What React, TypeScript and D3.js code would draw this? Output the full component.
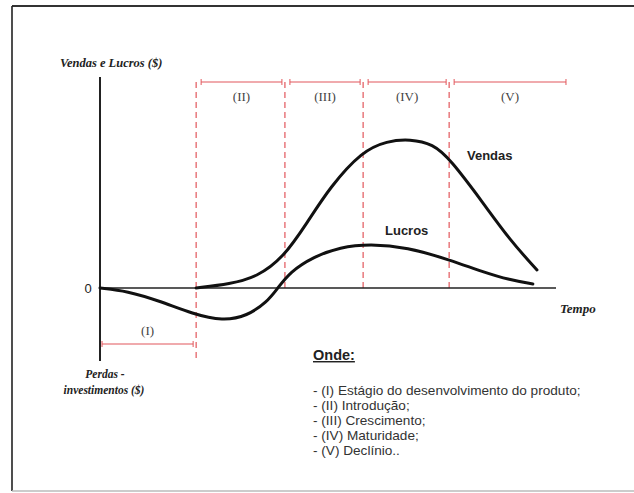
import React from "react";
import * as d3 from "d3";

const W = 634;
const H = 493;

// Time units 0..100, money units (0 = break-even)
const vendasT = [20.9, 28.3, 34.1, 39.8, 45.0, 50.0, 57.0, 62.4, 67.4, 72.4, 76.1, 83.3, 89.1, 95.0];
const vendasV = [0, 4, 11, 30, 65, 101, 137, 147, 149, 144, 129, 85, 48, 18];

const lucrosT = [0, 5.9, 13.0, 20.2, 26.7, 32.0, 36.3, 38.5, 41.3, 46.3, 52.2, 58.7, 66.7, 76.1, 83.3, 89.1, 94.1];
const lucrosV = [0, -3, -13, -26, -33, -28, -14, -1, 16, 31, 41, 44, 41, 28, 16, 8, 4];

const phaseLabels = ["(I)", "(II)", "(III)", "(IV)", "(V)"];
const phaseStart = [0, 20.9, 40.2, 57.2, 75.9];
const phaseEnd = [20.9, 40.2, 57.2, 75.9, 101.3];

const legendTitle = "Onde:";
const legendItems = [
  "- (I) Estágio do desenvolvimento do produto;",
  "- (II) Introdução;",
  "- (III) Crescimento;",
  "- (IV) Maturidade;",
  "- (V) Declínio..",
];

const RED = "#e2575c";
const SERIF = "'Liberation Serif', 'Times New Roman', serif";
const SANS = "'Liberation Sans', Arial, sans-serif";

export default function App() {
  const x = d3.scaleLinear().domain([0, 100]).range([100, 560]);
  const y = d3.scaleLinear().domain([-80, 220]).range([368, 68]);

  const line = d3
    .line<[number, number]>()
    .x((d) => x(d[0]))
    .y((d) => y(d[1]))
    .curve(d3.curveBasis);

  const vendas = vendasT.map((t, i) => [t, vendasV[i]] as [number, number]);
  const lucros = lucrosT.map((t, i) => [t, lucrosV[i]] as [number, number]);

  const y0 = y(0);
  const topBracketY = 82;
  const bottomBracketY = 344;

  return (
    <div style={{ position: "absolute", left: 0, top: 0 }}>
      <svg width={W} height={H} style={{ display: "block", background: "#fff" }}>
        {/* frame */}
        <line x1={12} y1={6} x2={W} y2={6} stroke="#333" strokeWidth={2} />
        <line x1={12} y1={6} x2={12} y2={491} stroke="#222" strokeWidth={1.6} />
        <line x1={12} y1={491} x2={W} y2={491} stroke="#bbb" strokeWidth={1.5} />

        {/* dashed phase separators */}
        {phaseStart.slice(1).map((t, i) => (
          <line
            key={"d" + i}
            x1={x(t)}
            x2={x(t)}
            y1={topBracketY}
            y2={i === 0 ? 360 : y0}
            stroke={RED}
            strokeWidth={1.2}
            strokeDasharray="6,4"
          />
        ))}

        {/* phase brackets */}
        {phaseLabels.map((lab, i) => {
          const xs = x(phaseStart[i]) + (i === 0 ? 2 : 5);
          const xe = x(phaseEnd[i]) - (i === 4 ? 0 : 3);
          const by = i === 0 ? bottomBracketY : topBracketY;
          return (
            <g key={"b" + i}>
              <line x1={xs} x2={xe} y1={by} y2={by} stroke={RED} strokeWidth={1.2} />
              <line x1={xs} x2={xs} y1={by - 3} y2={by + 3} stroke={RED} strokeWidth={1} />
              <line x1={xe} x2={xe} y1={by - 3} y2={by + 3} stroke={RED} strokeWidth={1} />
              <text
                x={(xs + xe) / 2}
                y={i === 0 ? 335 : 101}
                textAnchor="middle"
                fontFamily={SERIF}
                fontSize={13}
                fill="#444"
              >
                {lab}
              </text>
            </g>
          );
        })}

        {/* axes */}
        <line x1={x(0)} x2={x(0)} y1={77} y2={361} stroke="#222" strokeWidth={2} />
        <line x1={x(0)} x2={556} y1={y0} y2={y0} stroke="#222" strokeWidth={1.6} />

        {/* curves */}
        <path d={line(vendas) || ""} fill="none" stroke="#111" strokeWidth={3} strokeLinecap="round" />
        <path d={line(lucros) || ""} fill="none" stroke="#111" strokeWidth={3} strokeLinecap="round" />

        {/* axis labels */}
        <text x={60} y={67} fontFamily={SERIF} fontStyle="italic" fontWeight="bold" fontSize={12.5} fill="#222">
          Vendas e Lucros ($)
        </text>
        <text x={88} y={293} textAnchor="middle" fontFamily={SANS} fontSize={13} fill="#222">
          0
        </text>
        <text x={560} y={313} fontFamily={SERIF} fontStyle="italic" fontWeight="bold" fontSize={13} fill="#222">
          Tempo
        </text>
        <text x={105} y={378} textAnchor="middle" fontFamily={SERIF} fontStyle="italic" fontWeight="bold" fontSize={11.5} fill="#222">
          Perdas -
        </text>
        <text x={104} y={394} textAnchor="middle" fontFamily={SERIF} fontStyle="italic" fontWeight="bold" fontSize={11.5} fill="#222">
          investimentos ($)
        </text>

        {/* series labels */}
        <text x={467} y={160} fontFamily={SANS} fontWeight="bold" fontSize={13} fill="#222">
          Vendas
        </text>
        <text x={385} y={235} fontFamily={SANS} fontWeight="bold" fontSize={13} fill="#222">
          Lucros
        </text>

        {/* legend */}
        <text x={313} y={360} fontFamily={SANS} fontWeight="bold" fontSize={14.5} fill="#222" textDecoration="underline">
          {legendTitle}
        </text>
        {legendItems.map((s, i) => (
          <text key={"l" + i} x={313} y={395 + i * 15} fontFamily={SANS} fontSize={13.6} fill="#333">
            {s}
          </text>
        ))}
      </svg>
    </div>
  );
}
